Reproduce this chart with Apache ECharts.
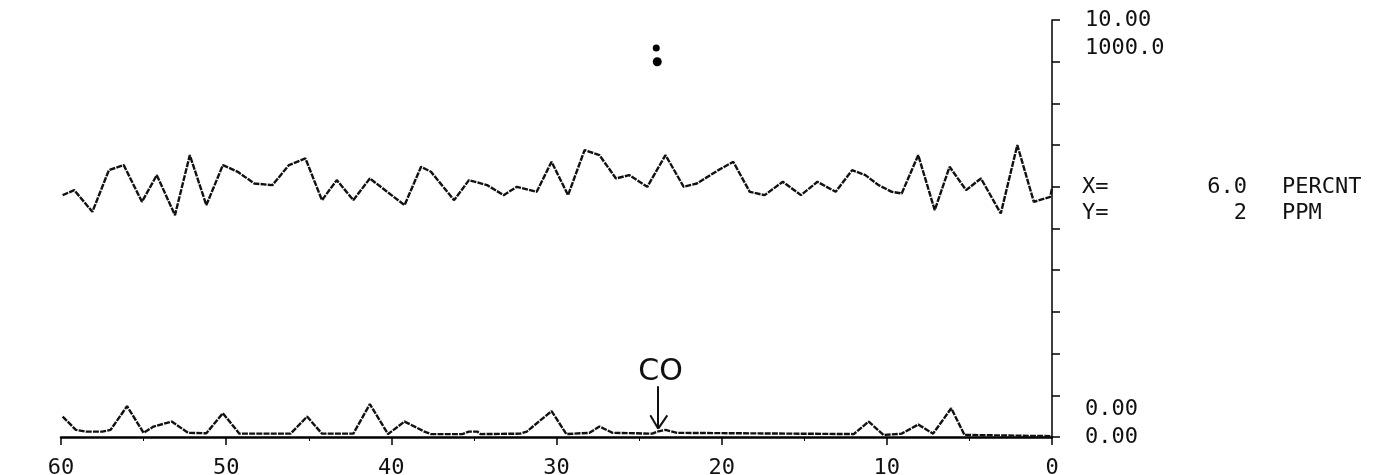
<!DOCTYPE html>
<html>
<head>
<meta charset="utf-8">
<script src="https://cdn.jsdelivr.net/npm/echarts@6/dist/echarts.min.js"></script>
<style>
  html, body { margin: 0; padding: 0; background: #fff; }
  #chart { width: 1380px; height: 475px; }
</style>
</head>
<body>
<div id="chart"></div>
<script>
// ---- data ----
// X axis: time, 60 -> 0
const xTickValues = [0, 10, 20, 30, 40, 50, 60];

// Upper trace: X, percent (0 - 10.00 full scale)
const pctTime = [59.9,59.2,58.1,57.1,56.2,55.1,54.2,53.1,52.2,51.2,50.2,49.3,48.3,47.2,46.2,45.2,44.2,43.3,42.3,41.3,
  39.2,38.2,37.6,36.2,35.3,34.2,33.2,32.4,31.2,30.3,29.3,28.3,27.4,26.4,25.6,24.5,23.4,22.3,21.5,20.2,
  19.3,18.3,17.4,16.3,15.2,14.2,13.1,12.1,11.3,10.5,9.7,9.1,8.1,7.1,6.2,5.2,4.3,3.1,2.1,1.1,0.1,0];
const pctValue = [5.80,5.92,5.40,6.40,6.52,5.64,6.28,5.32,6.76,5.56,6.52,6.36,6.08,6.04,6.52,6.68,5.68,6.16,5.68,6.20,
  5.56,6.48,6.36,5.68,6.16,6.04,5.80,6.00,5.88,6.60,5.80,6.88,6.76,6.20,6.28,6.00,6.76,6.00,6.08,6.40,
  6.60,5.88,5.80,6.12,5.80,6.12,5.88,6.40,6.28,6.04,5.88,5.84,6.76,5.44,6.48,5.92,6.20,5.36,7.00,5.64,5.76,5.97];

// Lower trace: Y, ppm (0 - 1000.0 full scale)
const ppmTime = [59.9,59.1,58.5,57.5,57.0,56.0,55.0,54.4,53.3,52.3,51.2,50.2,49.2,46.1,45.1,44.2,42.3,41.3,40.2,39.2,
  38.0,37.6,35.7,35.3,34.8,34.6,32.2,31.8,30.3,29.4,28.0,27.4,26.6,24.2,23.9,23.4,22.7,12.0,11.1,10.2,
  9.1,8.1,7.2,6.1,5.3,0];
const ppmValue = [49,17,13,13,17,74,10,25,37,10,9,57,8,8,49,8,8,79,7,37,
  13,7,7,13,13,7,8,13,62,7,10,25,10,8,13,17,10,7,37,5,
  8,30,8,69,5,2];

// Stray pen dots near the top of the chart (time, percent, size)
const penDotTime = [23.96, 23.9];
const penDotValue = [9.33, 9.0];
const penDotSize = [7, 9];

// Annotation "CO" with arrow (time, ppm)
const coLabel = 'CO';
const coLabelAt = [23.7, 156];
const coArrowTop = [23.84, 122];
const coArrowTip = [23.84, 20];
const coBarbLeft = [24.32, 52];
const coBarbRight = [23.29, 52];

// Axis end labels
const pctMaxLabel = '10.00', pctMinLabel = '0.00';
const ppmMaxLabel = '1000.0', ppmMinLabel = '0.00';
const xUnit = 'PERCNT', yUnit = 'PPM';

// ---- chart ----
const FONT = '"DejaVu Sans Mono", "Liberation Mono", monospace';
const INK = '#111';
const chart = echarts.init(document.getElementById('chart'), null, { renderer: 'canvas' });

const lastPct = pctValue[pctValue.length - 1].toFixed(1);
const lastPpm = String(Math.round(ppmValue[ppmValue.length - 1]));

const traceStyle = { color: INK, width: 2.4, type: [6, 1.2], opacity: 1 };

const option = {
  animation: false,
  backgroundColor: '#ffffff',
  grid: { left: 61, right: 328, top: 20, bottom: 38, containLabel: false, outerBoundsMode: 'none' },
  xAxis: {
    type: 'value', min: 0, max: 60, interval: 10, inverse: true,
    axisLine: { show: true, lineStyle: { color: '#000', width: 2.5 } },
    axisTick: { show: true, length: 8, lineStyle: { color: '#000', width: 1.5 } },
    minorTick: { show: true, splitNumber: 2, length: 4, lineStyle: { color: '#000', width: 1 } },
    splitLine: { show: false },
    axisLabel: {
      margin: 20, color: INK, fontFamily: FONT, fontSize: 22,
      formatter: v => (xTickValues.indexOf(v) >= 0 ? String(v) : '')
    }
  },
  yAxis: [
    {
      type: 'value', position: 'right', min: 0, max: 10, interval: 1,
      axisLine: { show: true, onZero: false, lineStyle: { color: '#000', width: 1.5 } },
      axisTick: { show: true, length: 8, lineStyle: { color: '#000', width: 1.5 } },
      splitLine: { show: false },
      axisLabel: {
        margin: 33, color: INK, fontFamily: FONT, fontSize: 22, align: 'left',
        formatter: v => (v === 10 ? pctMaxLabel : (v === 0 ? pctMinLabel : ''))
      }
    },
    {
      type: 'value', position: 'right', min: 0, max: 1000, interval: 100,
      axisLine: { show: false }, axisTick: { show: false }, splitLine: { show: false },
      axisLabel: {
        margin: 33, color: INK, fontFamily: FONT, fontSize: 22, align: 'left',
        formatter: v => (v === 1000 ? '{dn|' + ppmMaxLabel + '}' : (v === 0 ? '{up|' + ppmMinLabel + '}' : '')),
        rich: {
          dn: { fontFamily: FONT, fontSize: 22, color: INK, lineHeight: 20, padding: [56, 0, 0, 0] },
          up: { fontFamily: FONT, fontSize: 22, color: INK, lineHeight: 20, padding: [0, 0, 56, 0] }
        }
      }
    }
  ],
  series: [
    {
      name: xUnit, type: 'line', xAxisIndex: 0, yAxisIndex: 0, silent: true,
      symbol: 'none', lineStyle: traceStyle,
      data: pctTime.map((t, i) => [t, pctValue[i]])
    },
    {
      name: yUnit, type: 'line', xAxisIndex: 0, yAxisIndex: 1, silent: true,
      symbol: 'none', lineStyle: traceStyle,
      data: ppmTime.map((t, i) => [t, ppmValue[i]]),
      markLine: {
        silent: true, symbol: ['none', 'none'], animation: false,
        label: { show: false },
        lineStyle: { color: INK, width: 2, type: 'solid', opacity: 1 },
        data: [
          [{ coord: coArrowTop }, { coord: coArrowTip }],
          [{ coord: coBarbLeft }, { coord: coArrowTip }],
          [{ coord: coBarbRight }, { coord: coArrowTip }]
        ]
      },
      markPoint: {
        silent: true, symbol: 'circle', symbolSize: 1,
        itemStyle: { color: 'rgba(0,0,0,0)' },
        label: {
          show: true, position: 'inside', formatter: coLabel,
          fontFamily: '"DejaVu Sans", sans-serif', fontWeight: 'normal', fontSize: 30, color: INK
        },
        data: [{ coord: coLabelAt }]
      }
    },
    {
      name: 'dots', type: 'scatter', xAxisIndex: 0, yAxisIndex: 0, silent: true,
      itemStyle: { color: '#000', opacity: 1 },
      symbolSize: (val, p) => penDotSize[p.dataIndex],
      data: penDotTime.map((t, i) => [t, penDotValue[i]])
    }
  ],
  graphic: [
    { type: 'text', x: 1082, y: 187, silent: true,
      style: { text: 'X=', fill: INK, font: '22px ' + FONT, verticalAlign: 'middle', align: 'left' } },
    { type: 'text', x: 1247, y: 187, silent: true,
      style: { text: lastPct, fill: INK, font: '22px ' + FONT, verticalAlign: 'middle', align: 'right' } },
    { type: 'text', x: 1282, y: 187, silent: true,
      style: { text: xUnit, fill: INK, font: '22px ' + FONT, verticalAlign: 'middle', align: 'left' } },
    { type: 'text', x: 1082, y: 213, silent: true,
      style: { text: 'Y=', fill: INK, font: '22px ' + FONT, verticalAlign: 'middle', align: 'left' } },
    { type: 'text', x: 1247, y: 213, silent: true,
      style: { text: lastPpm, fill: INK, font: '22px ' + FONT, verticalAlign: 'middle', align: 'right' } },
    { type: 'text', x: 1282, y: 213, silent: true,
      style: { text: yUnit, fill: INK, font: '22px ' + FONT, verticalAlign: 'middle', align: 'left' } }
  ]
};

chart.setOption(option);
</script>
</body>
</html>
